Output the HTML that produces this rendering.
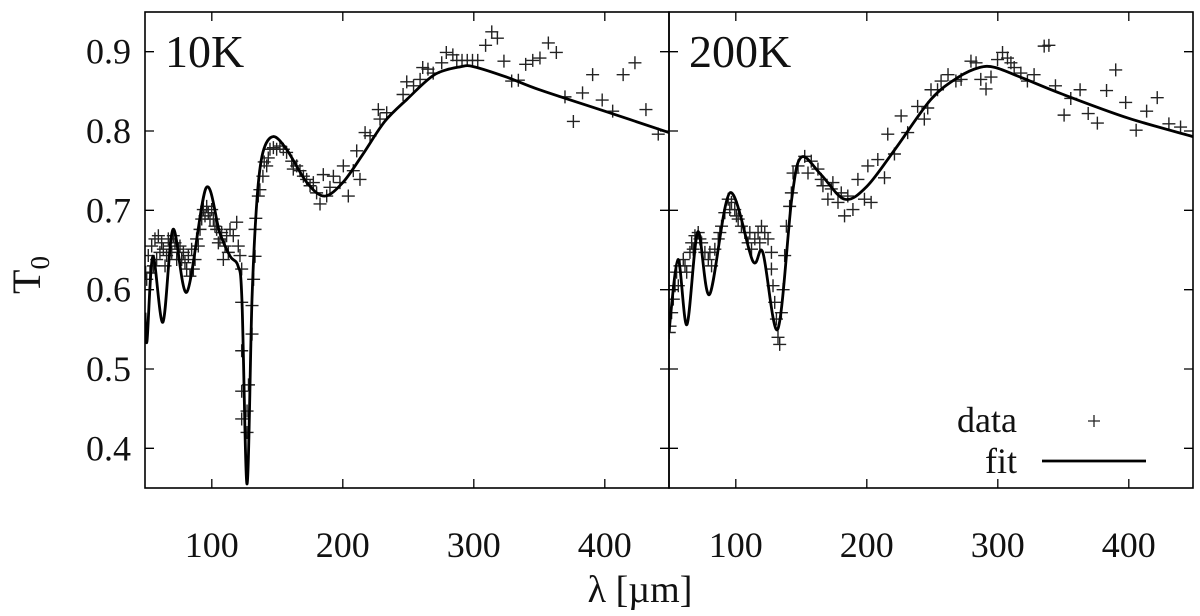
<!DOCTYPE html>
<html><head><meta charset="utf-8"><style>
html,body{margin:0;padding:0;background:#fff;}
svg text{font-family:"Liberation Serif",serif;fill:#111;}
</style></head><body>
<svg id="chart" width="1200" height="611" viewBox="0 0 1200 611" xmlns="http://www.w3.org/2000/svg">
<g id="layer"></g>
</svg>
<script>
const xTicks=[100,200,300,400];
const yTicks=[0.4,0.5,0.6,0.7,0.8,0.9];
const yTickLabels=["0.4","0.5","0.6","0.7","0.8","0.9"];
const panelLabels=["10K","200K"];
const fit10X=[49,50.5,55,62.7,70.4,81,95.6,106,114,120,123,126.9,130.7,134.5,139,146.7,157,172.6,186,200,215,232,249,270,290,300,325,350,400,449];
const fit10Y=[0.571,0.535,0.642,0.559,0.676,0.597,0.728,0.672,0.642,0.630,0.588,0.355,0.588,0.714,0.773,0.793,0.777,0.735,0.718,0.735,0.770,0.812,0.840,0.871,0.881,0.881,0.868,0.852,0.825,0.798];
const fit200X=[49,55.9,62.7,71,80,95.5,113,120.6,132,142.7,150,165,183,200,222,249,270,286,298,320,350,400,449];
const fit200Y=[0.547,0.638,0.556,0.673,0.594,0.722,0.636,0.647,0.550,0.714,0.767,0.745,0.714,0.730,0.778,0.840,0.868,0.880,0.880,0.866,0.846,0.816,0.793];
const data10X=[49.5,50.3,51.5,54.1,55.4,56.6,59.2,60.4,61.7,64.3,65.5,68.1,70.6,71.9,74.4,77,78.3,80.8,82.1,83.3,84.6,87.2,88.4,91,92.3,93.5,96.1,97.3,99.9,101.2,103.7,106.2,107.5,110.1,111.3,113.9,116.4,119,120.2,121.5,108.8,112.6,52.8,57.9,63,66.8,69.4,73.2,75.7,79.5,85.9,89.7,94.8,98.6,102.4,105,
122.8,122.8,122.8,122.8,122.8,126.9,126.9,128,130.7,130.7,131.9,133,133,133.6,135.5,136.7,139,140,141.9,143.1,144.4,147,149.5,152,154.6,157.1,161,162.2,164.8,167.3,169.9,172.4,175,177.5,180,182.6,185.1,187.7,190.2,192.8,197.8,200.4,204.2,208,210.6,213.1,217,220.8,227.1,228.4,233.5,
246,248.8,254,259,261,265,269,275.5,279,284,287,291,295,299,303,323,328.9,334,339.6,345,350.5,356.9,363,309,313.7,318,369.6,376,383,390.7,398,406,414,423,431.4,440.8];
const data10Y=[0.622,0.613,0.643,0.655,0.630,0.664,0.668,0.647,0.659,0.630,0.643,0.655,0.668,0.659,0.651,0.638,0.647,0.626,0.643,0.617,0.651,0.638,0.664,0.676,0.689,0.701,0.705,0.697,0.701,0.689,0.676,0.664,0.672,0.655,0.668,0.676,0.668,0.685,0.655,0.643,0.638,0.647,0.621,0.638,0.651,0.664,0.647,0.638,0.655,0.634,0.626,0.655,0.693,0.689,0.680,0.659,
0.626,0.584,0.523,0.472,0.437,0.420,0.447,0.480,0.544,0.580,0.613,0.642,0.676,0.690,0.718,0.726,0.743,0.761,0.756,0.766,0.777,0.779,0.777,0.781,0.777,0.773,0.762,0.752,0.756,0.750,0.743,0.739,0.731,0.735,0.722,0.708,0.745,0.718,0.729,0.743,0.735,0.756,0.718,0.750,0.775,0.739,0.798,0.794,0.827,0.815,0.823,
0.846,0.862,0.857,0.865,0.880,0.878,0.873,0.886,0.899,0.896,0.889,0.889,0.889,0.889,0.889,0.888,0.863,0.864,0.884,0.889,0.892,0.911,0.899,0.908,0.925,0.917,0.843,0.812,0.848,0.871,0.839,0.825,0.871,0.886,0.827,0.796];
const data200X=[49.2,49.8,51,52.3,53.6,54.8,57.4,59.9,62.5,65,66.3,68.8,71.3,73.9,76.4,79,81.5,84,86.6,89.1,91.6,94.2,96.7,99.2,101.8,104.3,106.9,109.4,112,114.5,117,119.6,122.1,124.6,127.2,127.2,128.4,129.7,131,132.2,133.5,134.8,136.1,137.3,138.6,141.1,142.4,143.7,147.5,152.6,157.6,162.7,166.5,170.3,172.9,178,183,185.5,189.4,193.2,198.2,203.3,200.8,208.4,213.5,216,221.1,226.2,231.2,238.8,243.9,174.1,180.5,155.1,165.2,
56.1,61.2,67.5,72.6,80.2,87.8,95.4,100.5,110.7,118.3,
246.5,249,254,256.7,262,268,272,279.5,283.4,287,291,294.8,299.8,303.6,307.4,310,312.5,317.6,322.6,327.7,335.4,339,344,350.6,355.7,362.8,369,376,383,390,397.6,405.6,413.6,421.7,430.6,439.5];
const data200Y=[0.546,0.554,0.571,0.588,0.605,0.622,0.630,0.638,0.622,0.647,0.659,0.668,0.672,0.659,0.647,0.638,0.630,0.651,0.664,0.680,0.697,0.714,0.710,0.701,0.689,0.680,0.672,0.659,0.651,0.664,0.672,0.680,0.672,0.664,0.647,0.626,0.605,0.584,0.563,0.540,0.531,0.571,0.600,0.643,0.680,0.705,0.722,0.747,0.756,0.768,0.762,0.752,0.731,0.714,0.727,0.710,0.693,0.718,0.701,0.739,0.714,0.710,0.756,0.764,0.741,0.796,0.771,0.819,0.798,0.831,0.815,0.735,0.722,0.747,0.739,
0.605,0.630,0.651,0.664,0.647,0.672,0.701,0.693,0.672,0.659,
0.829,0.852,0.852,0.863,0.871,0.863,0.865,0.888,0.886,0.865,0.853,0.868,0.890,0.899,0.892,0.886,0.880,0.873,0.863,0.871,0.907,0.908,0.857,0.820,0.841,0.852,0.822,0.810,0.851,0.877,0.836,0.801,0.825,0.842,0.809,0.805];

const NS="http://www.w3.org/2000/svg";
const layer=document.getElementById('layer');
const TOP=12,BOT=488,XMIN=49,XMAX=449,YMIN=0.35,YMAX=0.95;
const panels=[{l:145,r:669},{l:669,r:1193}];
function mk(tag,attrs,parent){const e=document.createElementNS(NS,tag);for(const k in attrs)e.setAttribute(k,attrs[k]);(parent||layer).appendChild(e);return e;}
function yS(v){return BOT-(v-YMIN)/(YMAX-YMIN)*(BOT-TOP);}
function xS(p,v){return p.l+(v-XMIN)/(XMAX-XMIN)*(p.r-p.l);}
function smooth(pts){let d="M"+pts[0][0]+","+pts[0][1];for(let i=0;i<pts.length-1;i++){const p0=pts[Math.max(0,i-1)],p1=pts[i],p2=pts[i+1],p3=pts[Math.min(pts.length-1,i+2)];const t=0.16;const c1x=p1[0]+(p2[0]-p0[0])*t,c1y=p1[1]+(p2[1]-p0[1])*t,c2x=p2[0]-(p3[0]-p1[0])*t,c2y=p2[1]-(p3[1]-p1[1])*t;d+=" C"+c1x.toFixed(1)+","+c1y.toFixed(1)+" "+c2x.toFixed(1)+","+c2y.toFixed(1)+" "+p2[0].toFixed(1)+","+p2[1].toFixed(1);}return d;}

const fitX=[fit10X,fit200X],fitY=[fit10Y,fit200Y],dX=[data10X,data200X],dY=[data10Y,data200Y];
panels.forEach((p,pi)=>{
  const g=mk('g',{});
  
  
  const clip=mk('clipPath',{id:'clip'+pi},g);mk('rect',{x:p.l,y:TOP,width:p.r-p.l,height:BOT-TOP},clip);
  const dg=mk('g',{'clip-path':'url(#clip'+pi+')',stroke:'#222','stroke-width':1.4},g);
  
  
  for(let i=0;i<dX[pi].length;i++){const x=xS(p,dX[pi][i]),y=yS(dY[pi][i]);
    const m=mk('path',{d:`M${x-6.5},${y}H${x+6.5}M${x},${y-6.5}V${y+6.5}`},dg);
    
    }
  const pts=fitX[pi].map((v,i)=>[xS(p,v),yS(fitY[pi][i])]);
  const f=mk('path',{d:smooth(pts),fill:'none',stroke:'#000','stroke-width':2.8,'clip-path':'url(#clip'+pi+')'},g);
  
  
  mk('rect',{x:p.l,y:TOP,width:p.r-p.l,height:BOT-TOP,fill:'none',stroke:'#000','stroke-width':1.6},g);
  xTicks.forEach(t=>{const x=xS(p,t);mk('path',{d:`M${x},${BOT}v-9M${x},${TOP}v9`,stroke:'#000','stroke-width':1.3},g);
    const tl=mk('text',{x:x,y:557,'font-size':36,'text-anchor':'middle'},g);tl.textContent=t;
    
    });
  yTicks.forEach((t,i)=>{const y=yS(t);mk('path',{d:`M${p.l},${y}h9M${p.r},${y}h-9`,stroke:'#000','stroke-width':1.3},g);
    if(pi===0){const tl=mk('text',{x:131,y:y+12,'font-size':36,'text-anchor':'end'},g);tl.textContent=yTickLabels[i];
      
      }});
  const pl=mk('text',{x:p.l+20,y:67,'font-size':46},g);pl.textContent=panelLabels[pi];
  
  
});
const yt=mk('text',{x:0,y:0,'font-size':40,transform:'translate(40,275) rotate(-90)','text-anchor':'middle'});
yt.innerHTML='T<tspan font-size="27" dy="9">0</tspan>';


const xt=mk('text',{x:640,y:602,'font-size':38,'text-anchor':'middle'});xt.textContent='λ [µm]';


const lg=mk('g',{});


const l1=mk('text',{x:1017,y:432,'font-size':36,'text-anchor':'end'},lg);l1.textContent='data';


mk('path',{d:'M1088,421h12M1094,415v12',stroke:'#222','stroke-width':1.3},lg);
const l2=mk('text',{x:1017,y:473,'font-size':36,'text-anchor':'end'},lg);l2.textContent='fit';


mk('path',{d:'M1042,461H1146',stroke:'#000','stroke-width':2.8},lg);
</script>
</body></html>
